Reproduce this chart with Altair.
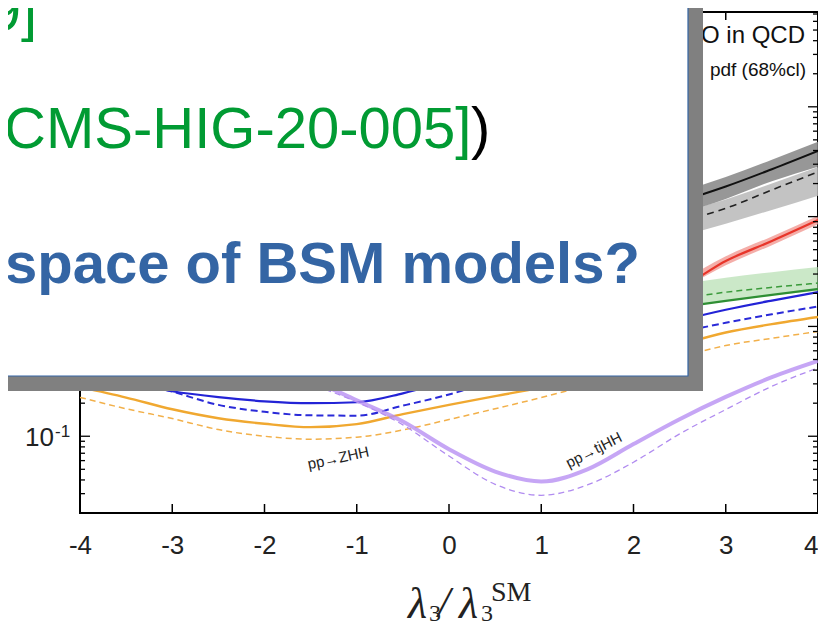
import altair as alt
import pandas as pd

# ---------------- data ----------------
lam = [-4, -3.5, -3, -2.5, -2, -1.5, -1, -0.5, 0, 0.5, 1, 1.5, 2, 2.5, 3, 3.5, 4]

gg_nlo = [230, 187, 150, 118, 92, 70, 52, 38, 27, 19, 14, 11.5, 11.2, 13.8, 18.8, 27, 39.6]
gg_lo = [130, 105, 85, 67, 52, 40, 30, 22, 15.5, 11, 8.3, 7.4, 7.6, 9.0, 11.9, 17.5, 25.5]
vbf_nlo = [60, 48, 38, 29, 22, 16, 11.5, 8, 5.5, 3.7, 2.6, 2.1, 2.0, 2.3, 3.95, 6.0, 9.3]
tthh_nlo = [3.2, 2.8, 2.45, 2.15, 1.9, 1.68, 1.5, 1.36, 1.26, 1.2, 1.19, 1.23, 1.32, 1.49, 1.71, 1.94, 2.19]
tthh_lo = [3.9, 3.4, 2.95, 2.6, 2.3, 2.05, 1.83, 1.66, 1.54, 1.47, 1.45, 1.5, 1.62, 1.80, 2.05, 2.27, 2.48]
whh_nlo = [0.37, 0.31, 0.257, 0.227, 0.208, 0.200, 0.204, 0.246, 0.32, 0.42, 0.55, 0.70, 0.88, 1.13, 1.42, 1.72, 2.05]
whh_lo = [0.42, 0.33, 0.255, 0.193, 0.167, 0.155, 0.154, 0.19, 0.24, 0.32, 0.42, 0.55, 0.70, 0.88, 1.08, 1.29, 1.52]
zhh_nlo = [0.28, 0.225, 0.176, 0.146, 0.130, 0.121, 0.129, 0.159, 0.193, 0.232, 0.28, 0.38, 0.51, 0.68, 0.88, 1.05, 1.22]
zhh_lo = [0.226, 0.178, 0.145, 0.115, 0.100, 0.094, 0.098, 0.114, 0.142, 0.178, 0.225, 0.29, 0.38, 0.52, 0.67, 0.78, 0.90]
tjhh_nlo = [1.75, 1.3, 0.95, 0.68, 0.48, 0.33, 0.212, 0.136, 0.0761, 0.0477, 0.0387, 0.050, 0.085, 0.143, 0.228, 0.345, 0.485]
tjhh_lo = [1.6, 1.2, 0.88, 0.62, 0.43, 0.30, 0.205, 0.127, 0.066, 0.0365, 0.029, 0.036, 0.058, 0.105, 0.175, 0.285, 0.42]

# uncertainty bands (only the visible right-hand part)
band_lam = [2.5, 3, 3.5, 4]
gg_nlo_band_lo = [10.7, 14.5, 21, 28.5]
gg_nlo_band_hi = [16.8, 23, 33, 48]
gg_lo_band_lo = [6.6, 8.6, 11.5, 15.5]
gg_lo_band_hi = [11, 14.3, 20, 28.3]
vbf_band_lo = [2.1, 3.6, 5.5, 8.5]
vbf_band_hi = [2.5, 4.35, 6.6, 10.2]
tthh_band_lo = [1.50, 1.72, 1.92, 2.10]
tthh_band_hi = [2.42, 2.78, 3.12, 3.48]

x_ticks = [-4, -3, -2, -1, 0, 1, 2, 3, 4]
y_major = [0.1, 1, 10, 100]
y_major_exp = ["-1", "0", "1", "2"]
y_minor = [m * d for d in (0.01, 0.1, 1, 10, 100) for m in range(2, 10) if m * d < 730]

# labels inside the plot
ann_lam = [-1.2, 1.57]
ann_sigma = [0.0634, 0.075]
ann_text = ["pp→ZHH", "pp→tjHH"]
ann_angle = [348, 333]

# ---------------- layout ----------------
W, H = 738, 501
FONT = "Liberation Sans"

xscale = alt.Scale(domain=[-4, 4], nice=False, zero=False)
yscale = alt.Scale(type="log", domain=[0.02, 730], nice=False)

X = alt.X("lam:Q", scale=xscale,
          axis=alt.Axis(values=x_ticks, labelExpr="datum.value + ''", title=None,
                        ticks=False, domain=False, grid=False, labelFont=FONT,
                        labelFontSize=26, labelColor="#222", labelPadding=19,
                        labelFlush=False, zindex=0,
                        labelAlign=alt.condition("datum.value == 4",
                                                 alt.value("right"), alt.value("center"))))
Y = alt.Y("sigma:Q", scale=yscale,
          axis=alt.Axis(labels=False, ticks=False, domain=False, grid=False,
                        title=None, zindex=0))


def line(vals, color, width, dash=None, opacity=1.0):
    df = pd.DataFrame({"lam": lam, "sigma": vals})
    kw = dict(color=color, strokeWidth=width, clip=True, interpolate="monotone",
              opacity=opacity)
    if dash:
        kw["strokeDash"] = dash
    return alt.Chart(df).mark_line(**kw).encode(x=X, y=Y)


def band(lo, hi, color, opacity):
    df = pd.DataFrame({"lam": band_lam, "sigma": lo, "hi": hi})
    return alt.Chart(df).mark_area(color=color, opacity=opacity, clip=True,
                                   interpolate="monotone").encode(
        x=X, y=Y, y2="hi:Q")


layers = []
# bands
layers.append(band(gg_lo_band_lo, gg_lo_band_hi, "#b8b8b8", 0.85))
layers.append(band(gg_nlo_band_lo, gg_nlo_band_hi, "#858585", 0.85))
layers.append(band(tthh_band_lo, tthh_band_hi, "#a9d9a4", 0.6))
layers.append(band(vbf_band_lo, vbf_band_hi, "#f19a94", 0.8))
# lines
layers.append(line(gg_lo, "#222222", 1.6, [7, 5]))
layers.append(line(gg_nlo, "#111111", 2.0))
layers.append(line(vbf_nlo, "#e8352a", 2.2))
layers.append(line(tthh_lo, "#3a9a3a", 1.5, [6, 4]))
layers.append(line(tthh_nlo, "#2f8f34", 2.2))
layers.append(line(whh_lo, "#2a2ad8", 2.0, [7, 4]))
layers.append(line(whh_nlo, "#2323d6", 2.2))
layers.append(line(zhh_lo, "#f2b04a", 1.5, [6, 4]))
layers.append(line(zhh_nlo, "#f0a830", 2.4))
layers.append(line(tjhh_lo, "#b18cf0", 1.3, [6, 4]))
layers.append(line(tjhh_nlo, "#b890f3", 4.0, None, 0.8))

# process labels
ann_df = pd.DataFrame({"lam": ann_lam, "sigma": ann_sigma, "t": ann_text, "a": ann_angle})
layers.append(alt.Chart(ann_df).mark_text(font=FONT, fontSize=15, color="#222",
                                          align="center", baseline="middle").encode(
    x=X, y=Y, text="t:N", angle=alt.Angle("a:Q", scale=None)))

# legend text (top right)
one = pd.DataFrame({"k": [0]})
layers.append(alt.Chart(one).mark_text(text="LO and NLO in QCD", font=FONT, fontSize=24,
                                       color="#111", align="right", baseline="alphabetic").encode(
    x=alt.value(725), y=alt.value(31)))
layers.append(alt.Chart(one).mark_text(text="scale ⊕\u00a0\u00a0pdf (68%cl)", font=FONT,
                                       fontSize=19, color="#111", align="right",
                                       baseline="alphabetic").encode(
    x=alt.value(726), y=alt.value(64)))

# inward ticks on all four sides
xt = pd.DataFrame({"lam": x_ticks})
layers.append(alt.Chart(xt).mark_rule(color="black", strokeWidth=1.5).encode(
    x=X, y=alt.value(H), y2=alt.value(H - 9)))
layers.append(alt.Chart(xt).mark_rule(color="black", strokeWidth=1.5).encode(
    x=X, y=alt.value(0), y2=alt.value(8)))
ymj = pd.DataFrame({"sigma": y_major})
ymn = pd.DataFrame({"sigma": y_minor})
for df, ln in ((ymj, 10), (ymn, 5)):
    layers.append(alt.Chart(df).mark_rule(color="black", strokeWidth=1.3).encode(
        y=Y, x=alt.value(0), x2=alt.value(ln)))
    layers.append(alt.Chart(df).mark_rule(color="black", strokeWidth=1.3).encode(
        y=Y, x=alt.value(W), x2=alt.value(W - ln)))

# y labels 10^n
ylab = pd.DataFrame({"sigma": y_major, "e": y_major_exp})
layers.append(alt.Chart(ylab).mark_text(text="10", font=FONT, fontSize=26, color="#222",
                                        align="right", baseline="middle", dy=2).encode(
    y=Y, x=alt.value(-26)))
layers.append(alt.Chart(ylab).mark_text(font=FONT, fontSize=17, color="#222",
                                        align="left", baseline="middle", dy=-4).encode(
    y=Y, x=alt.value(-25), text="e:N"))

# x axis title  lambda_3 / lambda_3^SM
SERIF = "Liberation Serif"
title_parts = [
    ("λ", 328, 606, 44, "italic"),
    ("3", 349, 609, 24, "normal"),
    ("/", 358, 605, 44, "italic"),
    ("λ", 379, 606, 44, "italic"),
    ("3", 401, 609, 24, "normal"),
    ("SM", 411, 589, 28, "normal"),
]
for t, xx, yy, fs, st in title_parts:
    layers.append(alt.Chart(one).mark_text(text=t, font=SERIF, fontSize=fs, fontStyle=st,
                                           color="#222", align="left",
                                           baseline="alphabetic").encode(
        x=alt.value(xx), y=alt.value(yy)))

# slide overlay box with shadow
layers.append(alt.Chart(one).mark_rect(color="#808080").encode(
    x=alt.value(-90), x2=alt.value(623), y=alt.value(-20), y2=alt.value(379)))
layers.append(alt.Chart(one).mark_rect(fill="white", stroke="#3465a4", strokeWidth=1.2).encode(
    x=alt.value(-90), x2=alt.value(608), y=alt.value(-20), y2=alt.value(364)))

GREEN = "#019b33"
layers.append(alt.Chart(one).mark_text(text="9]", font=FONT, fontSize=58, color=GREEN,
                                       align="right", baseline="alphabetic").encode(
    x=alt.value(-43), y=alt.value(18)))
layers.append(alt.Chart(one).mark_text(text="[CMS-HIG-20-005]", font=FONT, fontSize=58,
                                       color=GREEN, align="left", baseline="alphabetic").encode(
    x=alt.value(-92), y=alt.value(136)))
layers.append(alt.Chart(one).mark_text(text=")", font=FONT, fontSize=58, color="black",
                                       align="left", baseline="alphabetic").encode(
    x=alt.value(391), y=alt.value(136)))
layers.append(alt.Chart(one).mark_text(text="space of BSM models?", font=FONT, fontSize=58,
                                       fontWeight="bold", color="#3465a4", align="left",
                                       baseline="alphabetic").encode(
    x=alt.value(-75), y=alt.value(271)))

chart = alt.layer(*layers).properties(
    width=W, height=H,
    autosize=alt.AutoSizeParams(type="none"),
    padding={"left": 72, "top": 4, "right": 0, "bottom": 110},
).configure_view(stroke="black", strokeWidth=2)

chart.save("out.html", embed_options={"renderer": "svg", "actions": False})
